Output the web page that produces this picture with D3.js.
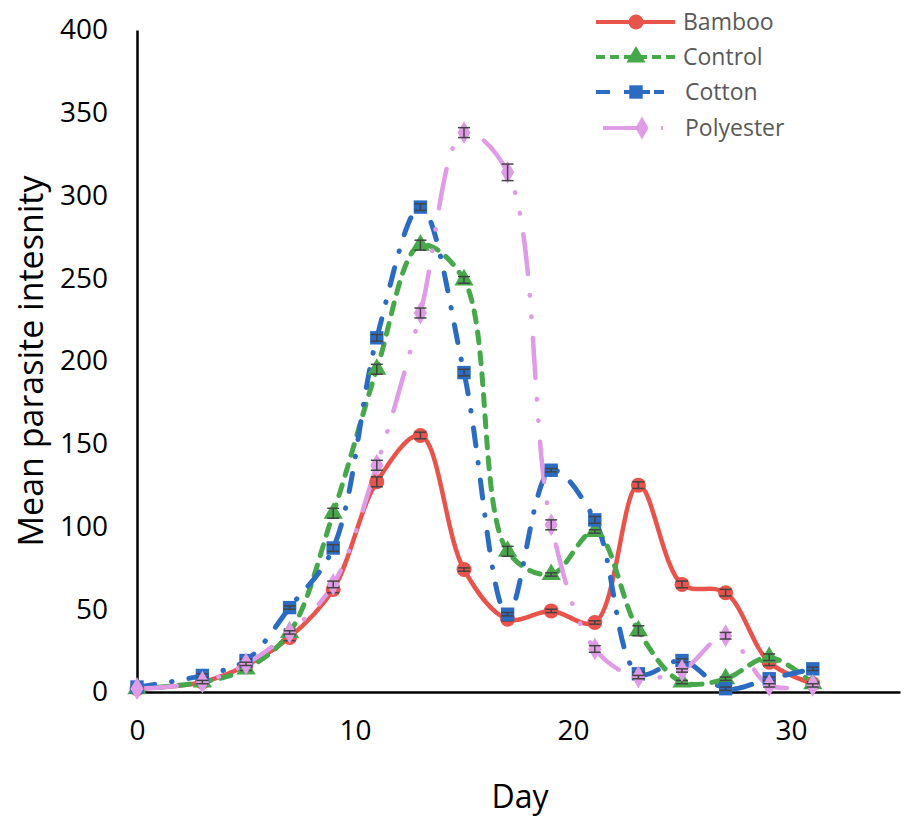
<!DOCTYPE html>
<html>
<head>
<meta charset="utf-8">
<script src="https://cdn.jsdelivr.net/npm/d3@7/dist/d3.min.js"></script>
<style>
  html, body { margin: 0; padding: 0; background: #fff; }
  svg { display: block; }
</style>
</head>
<body>
<svg id="chart" width="909" height="822"></svg>
<script>
// ---- Data ----
const days = [0, 3, 5, 7, 9, 11, 13, 15, 17, 19, 21, 23, 25, 27, 29, 31];
const bamboo    = [2, 6, 16, 33, 62, 127, 155, 74, 44, 49, 42, 125, 65, 60, 18, 5];
const control   = [2, 6, 14, 36, 108, 195, 270, 249, 85, 71, 97, 37, 6, 8, 21, 5];
const cotton    = [3, 10, 19, 51, 87, 214, 293, 193, 47, 134, 104, 11, 19, 2, 8, 14];
const polyester = [2, 6, 17, 36, 65, 137, 229, 338, 314, 101, 26, 9, 13, 34, 4, 4];
const errBamboo    = [0, 1, 1, 2, 2, 3, 2, 1, 1, 1, 1, 2, 2, 2, 2, 1];
const errControl   = [0, 1, 1, 2, 3, 3, 3, 2, 3, 1, 1, 3, 1, 1, 2, 1];
const errCotton    = [0, 1, 1, 1, 2, 2, 2, 2, 1, 1, 2, 1, 1, 1, 1, 1];
const errPolyester = [0, 1, 1, 1, 2, 3, 3, 3, 5, 3, 2, 1, 1, 2, 1, 1];
const seriesNames = ["Bamboo", "Control", "Cotton", "Polyester"];
const yTicks = [0, 50, 100, 150, 200, 250, 300, 350, 400];
const xTicks = [0, 10, 20, 30];

// ---- Styles ----
const styles = {
  Bamboo:    { color: "#E8534B", dash: null,                  marker: "circle",   width: 4.5 },
  Control:   { color: "#46A84A", dash: "11,10",               marker: "triangle", width: 5 },
  Cotton:    { color: "#2B6CC2", dash: "18,17,0.5,17",        marker: "square",   width: 5 },
  Polyester: { color: "#DF9BE6", dash: "40,21,0.5,21,0.5,21", marker: "diamond",  width: 4.5 }
};
const values = { Bamboo: bamboo, Control: control, Cotton: cotton, Polyester: polyester };
const errors = { Bamboo: errBamboo, Control: errControl, Cotton: errCotton, Polyester: errPolyester };

const svg = d3.select("#chart");
const x = d3.scaleLinear().domain([0, 35]).range([137, 900]);
const y = d3.scaleLinear().domain([0, 400]).range([692, 30]);

const font = "'Open Sans', 'Noto Sans', sans-serif";

// ---- Axes ----
const yAxis = svg.append("g").attr("transform", `translate(${x(0)},0)`)
  .call(d3.axisLeft(y).tickValues(yTicks).tickSize(0).tickPadding(29));
yAxis.select(".domain").attr("stroke", "#000").attr("stroke-width", 2.5);
yAxis.selectAll("text").attr("font-family", font).attr("font-size", 28).attr("fill", "#000");

const xAxis = svg.append("g").attr("transform", `translate(0,${y(0)})`)
  .call(d3.axisBottom(x).tickValues(xTicks).tickSize(0).tickPadding(28));
xAxis.select(".domain").attr("stroke", "#000").attr("stroke-width", 2.5);
xAxis.selectAll("text").attr("font-family", font).attr("font-size", 28).attr("fill", "#000");

// axis titles
svg.append("text")
  .attr("transform", `translate(43,${(y(0) + y(400)) / 2}) rotate(-90)`)
  .attr("text-anchor", "middle").attr("font-family", font).attr("font-size", 34)
  .attr("fill", "#000").text("Mean parasite intesnity");
svg.append("text")
  .attr("x", 520).attr("y", 808)
  .attr("text-anchor", "middle").attr("font-family", font).attr("font-size", 32)
  .attr("fill", "#000").text("Day");

// ---- Marker drawing ----
function drawMarker(g, type, cx, cy, color) {
  if (type === "circle") {
    g.append("circle").attr("cx", cx).attr("cy", cy).attr("r", 7.5).attr("fill", color);
  } else {
    const sym = { triangle: d3.symbolTriangle, square: d3.symbolSquare, diamond: d3.symbolDiamond }[type];
    const size = { triangle: 160, square: 180, diamond: 150 }[type];
    g.append("path").attr("d", d3.symbol().type(sym).size(size)())
      .attr("transform", `translate(${cx},${cy})`).attr("fill", color);
  }
}

// ---- Lines ----
const line = d3.line().x(d => x(d[0])).y(d => y(d[1])).curve(d3.curveCatmullRom.alpha(0.5));
const plot = svg.append("g");

seriesNames.forEach(name => {
  const st = styles[name];
  const pts = days.map((d, i) => [d, values[name][i]]);
  plot.append("path").datum(pts).attr("d", line)
    .attr("fill", "none").attr("stroke", st.color).attr("stroke-width", st.width)
    .attr("stroke-dasharray", st.dash).attr("stroke-linecap", st.dash ? "round" : "butt");
});

seriesNames.forEach(name => {
  const st = styles[name];
  const g = plot.append("g");
  days.forEach((d, i) => {
    const v = values[name][i], e = errors[name][i];
    drawMarker(g, st.marker, x(d), y(v), st.color);
    if (e > 0) {
      const eg = g.append("g").attr("stroke", "#444").attr("stroke-width", 1.5);
      eg.append("line").attr("x1", x(d)).attr("x2", x(d)).attr("y1", y(v + e)).attr("y2", y(v - e));
      eg.append("line").attr("x1", x(d) - 6).attr("x2", x(d) + 6).attr("y1", y(v + e)).attr("y2", y(v + e));
      eg.append("line").attr("x1", x(d) - 6).attr("x2", x(d) + 6).attr("y1", y(v - e)).attr("y2", y(v - e));
    }
  });
});

// ---- Legend ----
const legend = svg.append("g");
const legendYs = [22, 57, 92, 128];
seriesNames.forEach((name, i) => {
  const st = styles[name];
  const ly = legendYs[i];
  const lg = legend.append("g");
  const x0 = name === "Polyester" ? 603 : 596;
  const x1 = name === "Cotton" ? 664 : 675;
  lg.append("line").attr("x1", x0).attr("x2", x1).attr("y1", ly).attr("y2", ly)
    .attr("stroke", st.color).attr("stroke-width", 4)
    .attr("stroke-dasharray", name === "Control" ? "9,5" : name === "Cotton" ? "14,14,26,4" : name === "Polyester" ? "40,18,2,40" : null);
  drawMarker(lg, st.marker, name === "Polyester" ? 642 : 636, ly, st.color);
  lg.append("text").attr("x", name === "Bamboo" || name === "Control" ? 683 : 685)
    .attr("y", ly + 8).attr("font-family", font).attr("font-size", 23)
    .attr("fill", "#595959").text(name);
});
</script>
</body>
</html>
